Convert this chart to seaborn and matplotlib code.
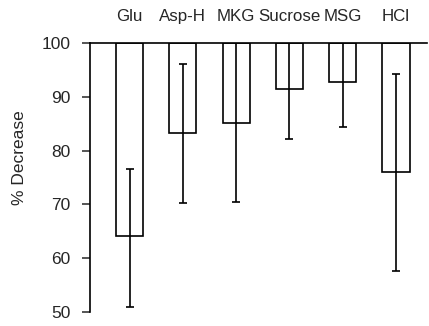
import matplotlib
matplotlib.use("Agg")
import matplotlib.pyplot as plt
import seaborn as sns
import pandas as pd

categories = ["Glu", "Asp-H", "MKG", "Sucrose", "MSG", "HCl"]
values = [64.1, 83.3, 85.1, 91.4, 92.7, 76.0]
err_low = [50.9, 70.3, 70.4, 82.2, 84.4, 57.6]
err_high = [76.6, 96.1, 100.5, 100.5, 100.5, 94.2]
yticks = [50, 60, 70, 80, 90, 100]

sns.set_style("white")
plt.rcParams["font.family"] = ["Liberation Sans", "DejaVu Sans"]

df = pd.DataFrame({"cat": categories, "val": values})
df["h"] = df["val"] - 100

fig = plt.figure(figsize=(4.29, 3.26), dpi=100)
ax = fig.add_axes([0.21, 0.043, 0.785, 0.825])

sns.barplot(data=df, x="cat", y="h", ax=ax, bottom=100, width=0.51,
            color="white", edgecolor="black", linewidth=1.2, errorbar=None,
            order=categories)

pos = list(range(len(categories)))
lo = [v - l for v, l in zip(values, err_low)]
hi = [h - v for v, h in zip(values, err_high)]
ax.errorbar(pos, values, yerr=[lo, hi], fmt="none", ecolor="black",
            elinewidth=1.2, capsize=3, capthick=1.2)

ax.set_ylim(50, 100)
ax.set_xlim(-0.74, 5.58)
ax.set_yticks(yticks)
ax.set_yticklabels([str(t) for t in yticks], fontsize=12.5)
ax.set_ylabel("% Decrease", fontsize=12.5)
ax.yaxis.set_label_coords(-0.187, 0.574)
ax.set_xlabel("")
ax.xaxis.tick_top()
ax.xaxis.set_label_position("top")
ax.tick_params(axis="x", length=0, labelsize=12.2, pad=14)
ax.tick_params(axis="y", left=True, length=6, width=1.1, direction="out", pad=8)

for s in ["right", "bottom"]:
    ax.spines[s].set_visible(False)
ax.spines["left"].set_linewidth(1.2)
ax.spines["top"].set_linewidth(1.2)
for s in ["left", "top"]:
    ax.spines[s].set_color("black")

fig.savefig("out.png", dpi=100)
